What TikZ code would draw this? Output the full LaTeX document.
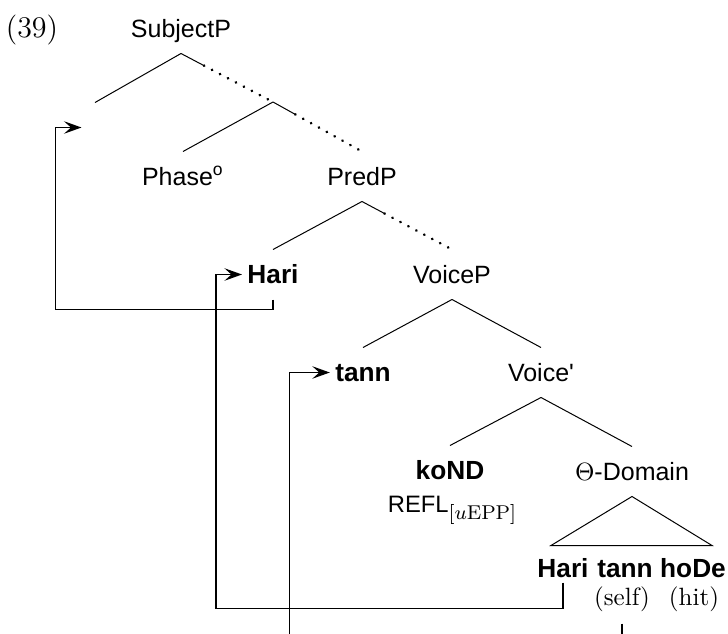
\documentclass[tikz,border=0pt]{standalone}
\usepackage{fontspec}
\setsansfont{Liberation Sans}
\usepackage{tikz}
\usetikzlibrary{arrows.meta,calc}
\tikzset{
  cat/.style={anchor=base,font=\sffamily\fontsize{10}{12}\selectfont,inner xsep=2pt,inner ysep=0pt,text height=13.2pt,text depth=6.4pt},
  word/.style={cat,font=\sffamily\bfseries\fontsize{10.5}{12}\selectfont},
  leaf/.style={anchor=base,font=\sffamily\bfseries\fontsize{10.5}{12}\selectfont,inner sep=0pt,text depth=2pt},
  gloss/.style={anchor=base,font=\rmfamily\fontsize{10}{12}\selectfont,inner sep=0pt,text depth=2pt},
  branch/.style={line width=0.4pt},
  dots/.style={line width=1.1pt,dash pattern=on 0.1pt off 3.5pt,line cap=round},
  move/.style={-{Stealth[length=7pt,width=5pt,inset=2.8pt]},line width=0.5pt}
}
% first quarter solid, rest dotted
\newcommand{\dotbranch}[2]{%
  \draw[branch] (#1) -- ($(#1)!0.25!(#2)$);
  \draw[dots] ($(#1)!0.25!(#2)$) -- (#2);}

\begin{document}
\begin{tikzpicture}[x=0.4pt,y=-0.4pt]
  \clip (0,0) rectangle (728,634);
  % labels
  \node[gloss,font=\rmfamily\fontsize{12}{14}\selectfont] (ex) at (32,37) {(39)};
  \node[cat] (subj) at (181,37) {SubjectP};
  \node[cat,minimum width=10.4pt] (spec) at (95,136) {};
  \coordinate (bar) at (273,102);
  \node[cat] (phase) at (183,185) {Phase\textsuperscript{o}};
  \node[cat] (pred) at (362,185) {PredP};
  \node[word] (hari) at (273,283) {Hari};
  \node[cat] (voice) at (452,283) {VoiceP};
  \node[word] (tann) at (363,381) {tann};
  \node[cat] (vbar) at (541,381) {Voice\textquotesingle};
  \node[word] (kond) at (450,479) {koND};
  \node[gloss,font=\sffamily\fontsize{9.5}{11}\selectfont] (refl) at (452,512)
    {REFL\raisebox{-3pt}{\fontsize{8}{9}\selectfont$[u\mathrm{EPP}]$}};
  \node[cat] (dom) at (632,480) {$\Theta$-Domain};
  \node[leaf] (lhari) at (563,577) {Hari};
  \node[leaf] (ltann) at (625,577) {tann};
  \node[leaf] (lhode) at (693,577) {hoDe};
  \node[gloss] (self) at (622,605) {(self)};
  \node[gloss] (hit) at (694,605) {(hit)};
  % tree
  \draw[branch] (subj.south) -- (spec.north);
  \dotbranch{subj.south}{bar}
  \draw[branch] (bar) -- (phase.north);
  \dotbranch{bar}{pred.north}
  \draw[branch] (pred.south) -- (hari.north);
  \dotbranch{pred.south}{voice.north}
  \draw[branch] (voice.south) -- (tann.north);
  \draw[branch] (voice.south) -- (vbar.north);
  \draw[branch] (vbar.south) -- (kond.north);
  \draw[branch] (vbar.south) -- (dom.north);
  \draw[branch] (dom.south) -- ++(-81,49) -- ++(161,0) -- cycle;
  % movement
  \draw[move] (hari.south) -- ++(0,10) -| ($(spec.west)+(-26,0)$) -- (spec.west);
  \draw[move] (lhari.south) -- ++(0,26) -| ($(hari.west)+(-26,0)$) -- (hari.west);
  \draw[move] (self.south) ++(0,13) -- ++(0,40) -| ($(tann.west)+(-40,0)$) -- (tann.west);
\end{tikzpicture}
\end{document}
